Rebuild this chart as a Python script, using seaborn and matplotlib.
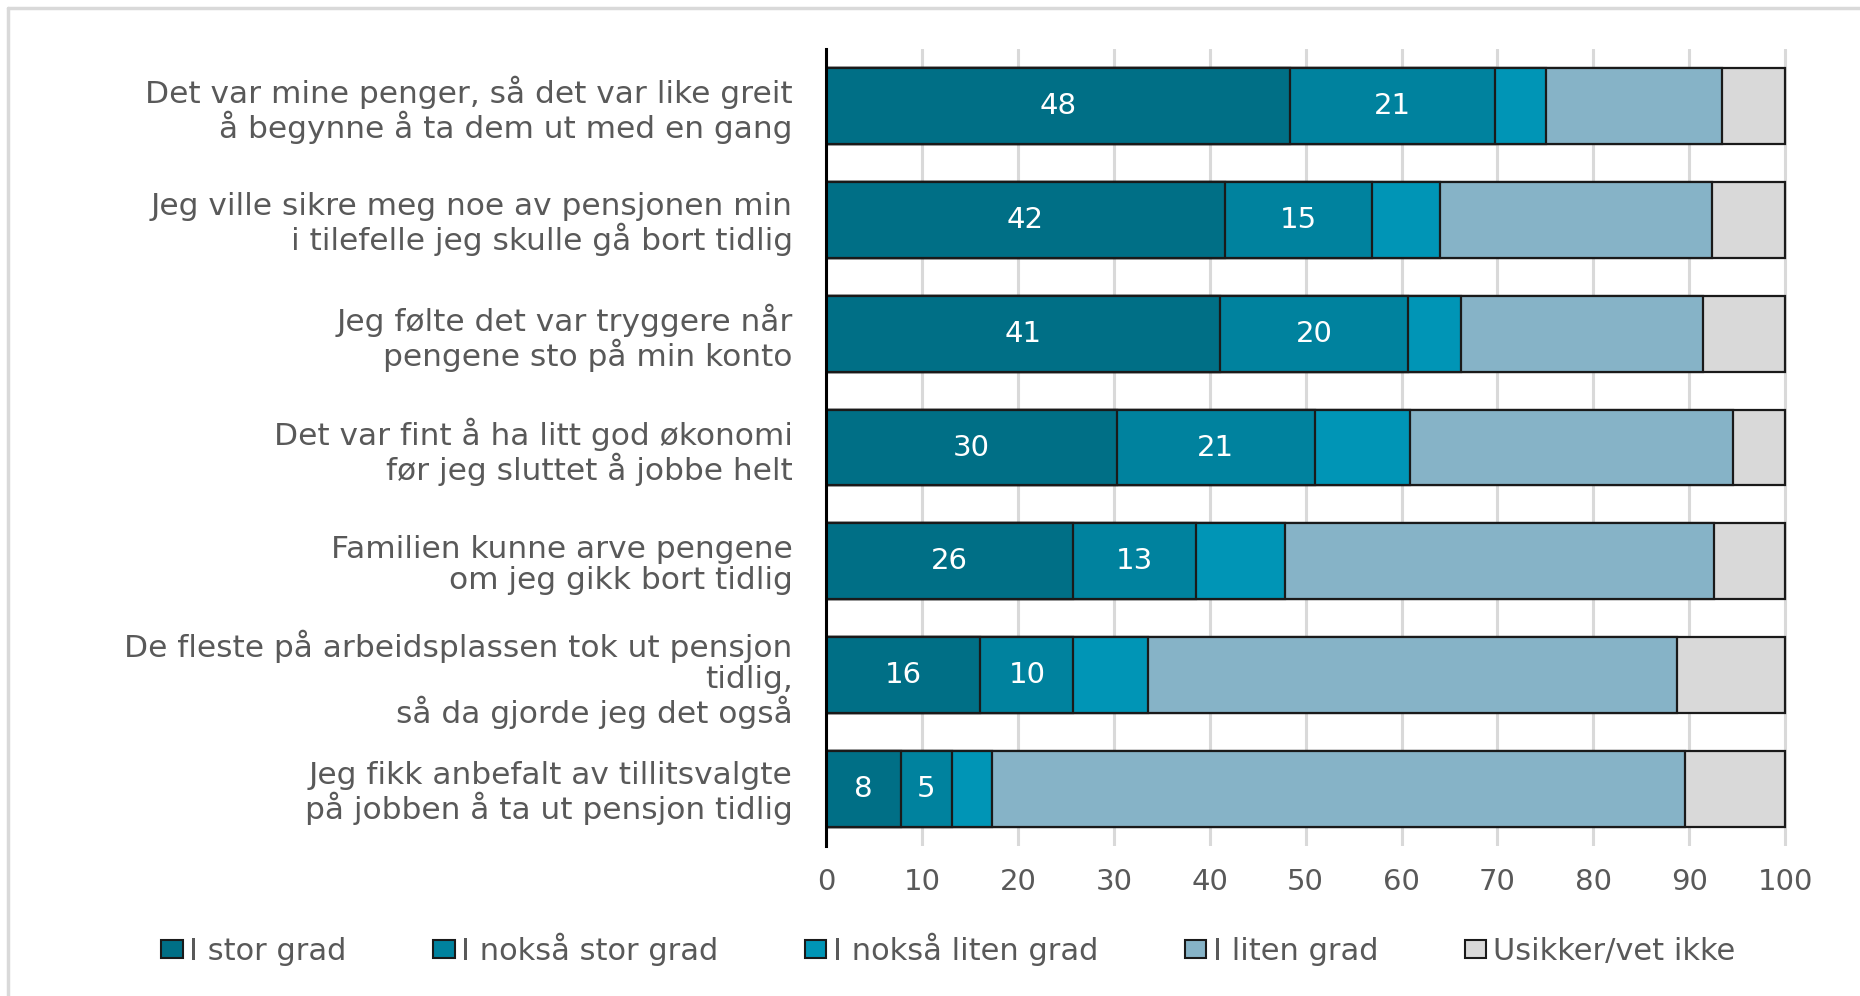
import matplotlib
matplotlib.use("Agg")
import matplotlib.pyplot as plt
from matplotlib.lines import Line2D
from matplotlib.patches import Patch
import seaborn as sns
import pandas as pd
import numpy as np

categories = [
    "Det var mine penger, så det var like greit\nå begynne å ta dem ut med en gang",
    "Jeg ville sikre meg noe av pensjonen min\ni tilefelle jeg skulle gå bort tidlig",
    "Jeg følte det var tryggere når\npengene sto på min konto",
    "Det var fint å ha litt god økonomi\nfør jeg sluttet å jobbe helt",
    "Familien kunne arve pengene\nom jeg gikk bort tidlig",
    "De fleste på arbeidsplassen tok ut pensjon\ntidlig,\nså da gjorde jeg det også",
    "Jeg fikk anbefalt av tillitsvalgte\npå jobben å ta ut pensjon tidlig",
]
series_names = ["I stor grad", "I nokså stor grad", "I nokså liten grad", "I liten grad", "Usikker/vet ikke"]
stor = [48.4, 41.6, 41.1, 30.3, 25.8, 16.1, 7.8]
noksa_stor = [21.3, 15.3, 19.6, 20.7, 12.8, 9.7, 5.3]
noksa_liten = [5.4, 7.1, 5.5, 9.9, 9.2, 7.8, 4.2]
liten = [18.3, 28.4, 25.2, 33.7, 44.8, 55.1, 72.3]
usikker = [6.6, 7.6, 8.6, 5.4, 7.4, 11.3, 10.4]
x_ticks = [0, 10, 20, 30, 40, 50, 60, 70, 80, 90, 100]

colors = ["#006f86", "#00829e", "#0095b6", "#86b3c7", "#d9d9d9"]
series = [stor, noksa_stor, noksa_liten, liten, usikker]

FONT = "DejaVu Sans"
TXT = "#595959"

sns.set_theme(style="white")
plt.rcParams["font.family"] = [FONT]

fig = plt.figure(figsize=(18.6, 9.96), dpi=100)
ax = fig.add_axes([826 / 1860, 1 - 846 / 996, (1791 - 826) / 1860, (846 - 49) / 996])

cum = np.cumsum(np.array(series), axis=0)
# draw from the full stack down so shorter cumulative bars cover the longer ones
for i in range(len(series) - 1, -1, -1):
    df = pd.DataFrame({"cat": categories, "val": cum[i]})
    sns.barplot(data=df, x="val", y="cat", orient="h", color=colors[i],
                saturation=1, width=0.667, edgecolor="#1a1a1a", linewidth=1.6,
                ax=ax, zorder=2)

# value labels for the first two segments
for i in range(2):
    left = cum[i] - np.array(series[i])
    for j, v in enumerate(series[i]):
        ax.text(left[j] + v / 2, j, f"{round(v):d}", ha="center", va="center",
                color="white", fontsize=21, family=FONT, zorder=5)

ax.set_xlim(0, 100.6)
ax.set_ylim(6.5, -0.5)
ax.set_xticks(x_ticks)
ax.set_xlabel("")
ax.set_ylabel("")
ax.grid(axis="x", color="#d9d9d9", linewidth=2.2)
ax.grid(axis="y", visible=False)
ax.set_axisbelow(True)
for s in ["top", "right", "bottom"]:
    ax.spines[s].set_visible(False)
ax.spines["left"].set_color("black")
ax.spines["left"].set_linewidth(2.2)
ax.spines["left"].set_zorder(6)
ax.tick_params(axis="x", length=0, pad=15.5, labelsize=21, labelcolor=TXT)
ax.tick_params(axis="y", length=0, pad=24, labelsize=22.5, labelcolor=TXT)
for lab in ax.get_yticklabels():
    lab.set_horizontalalignment("right")
    lab.set_multialignment("right")
    lab.set_linespacing(1.07)

handles = [Patch(facecolor=c, edgecolor="#1a1a1a", linewidth=1.5) for c in colors]
leg = fig.legend(handles, series_names, loc="center", bbox_to_anchor=(0.5097, 1 - 949 / 996),
                 ncol=5, frameon=False, fontsize=22, handlelength=0.7, handleheight=0.55,
                 handletextpad=0.2, columnspacing=2.85, labelcolor=TXT)

# light frame along the top and left edges
fig.add_artist(Line2D([8 / 1860, 8 / 1860], [0, 1 - 8 / 996], transform=fig.transFigure,
                      color="#d9d9d9", linewidth=2.5))
fig.add_artist(Line2D([8 / 1860, 1], [1 - 8 / 996, 1 - 8 / 996], transform=fig.transFigure,
                      color="#d9d9d9", linewidth=2.5))

fig.savefig("out.png", dpi=100, facecolor="white")
